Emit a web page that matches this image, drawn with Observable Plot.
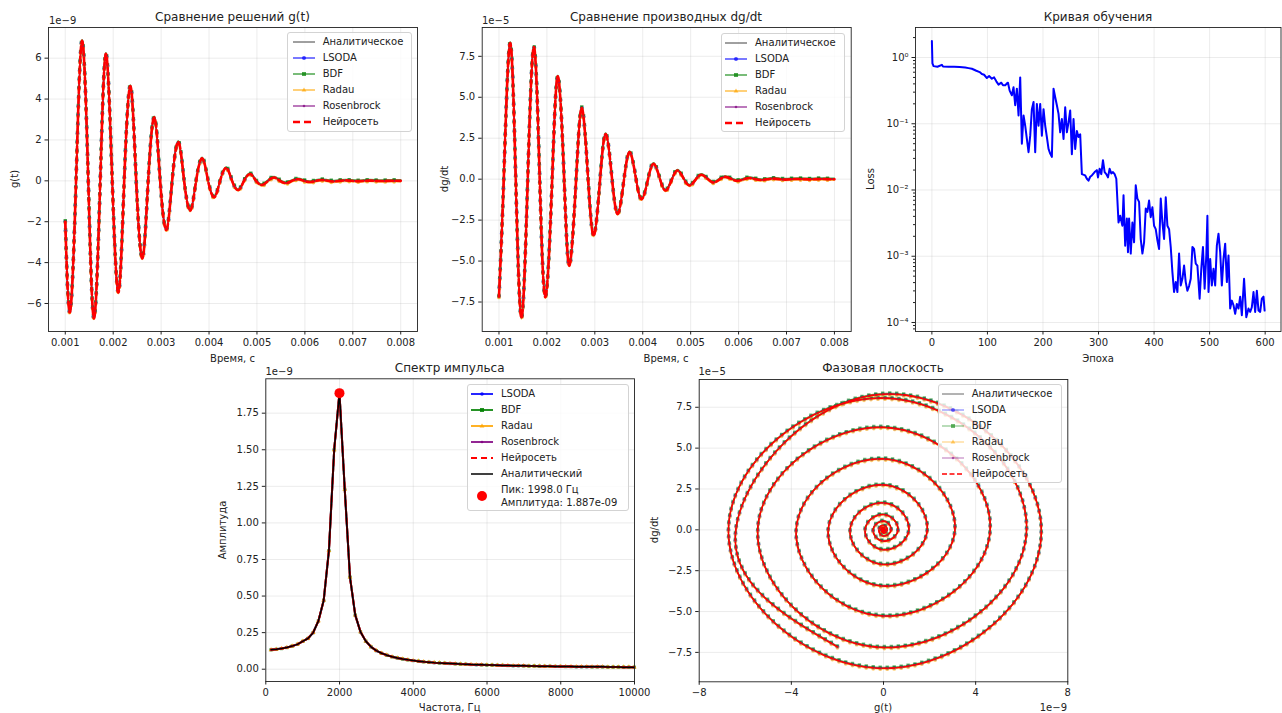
<!DOCTYPE html>
<html><head><meta charset="utf-8">
<script src="https://cdn.jsdelivr.net/npm/d3@7"></script>
<script src="https://cdn.jsdelivr.net/npm/@observablehq/plot@0.6"></script>
<style>
body{margin:0;background:#fff;}
#root{position:relative;width:1282px;height:713px;overflow:hidden;font-family:"DejaVu Sans",sans-serif;color:#222;}
.t{position:absolute;white-space:nowrap;line-height:1;}
.leg{position:absolute;background:rgba(255,255,255,0.8);border:1px solid #d3d3d3;border-radius:3px;box-sizing:border-box;}
</style></head><body><div id="root"></div><script>
// ---------- data ----------
// g(t), units 1e-9
const gT = [0.00100,0.00110,0.001225,0.00135,0.00148,0.00160,0.00173,0.00185,0.00198,0.00211,0.00223,0.00236,0.00248,0.00261,0.00273,0.00286,0.00298,0.00311,0.00323,0.00336,0.00348,0.00361,0.00373,0.00386,0.00398,0.00411,0.00423,0.00436,0.00448,0.00461,0.00473,0.00486,0.00498,0.00511,0.00523,0.00536,0.00548,0.00561,0.00573,0.00586,0.00598,0.00611,0.00623,0.00636,0.00648,0.00661,0.00673,0.00686,0.00698,0.00711,0.00723,0.00736,0.00748,0.00761,0.00773,0.00786,0.00800];
const gV = [-2.0,-6.41,0,6.85,0,-6.73,0,6.21,0,-5.46,0,4.63,0,-3.79,0,3.10,0,-2.40,0,1.90,0,-1.45,0,1.10,0,-0.80,0,0.63,0,-0.45,0,0.33,0,-0.20,0,0.16,0,-0.11,0,0.08,0,-0.06,0,0.04,0,-0.03,0,0.02,0,-0.015,0,0.01,0,-0.01,0,0.005,0];
// dg/dt, units 1e-5
const dT = [0.00100,0.00110,0.00123,0.00135,0.00147,0.00160,0.00173,0.00185,0.00197,0.00211,0.00223,0.00236,0.00247,0.00261,0.00273,0.00286,0.00298,0.00311,0.00323,0.00336,0.00348,0.00361,0.00373,0.00386,0.00398,0.00411,0.00423,0.00436,0.00448,0.00461,0.00473,0.00486,0.00498,0.00511,0.00523,0.00536,0.00548,0.00561,0.00573,0.00586,0.00598,0.00611,0.00623,0.00636,0.00648,0.00661,0.00673,0.00686,0.00698,0.00711,0.00723,0.00736,0.00748,0.00761,0.00773,0.00786,0.00800];
const dV = [-7.16,0,8.30,0,-8.47,0,8.06,0,-7.20,0,6.27,0,-5.27,0,4.34,0,-3.44,0,2.75,0,-2.12,0,1.65,0,-1.22,0,0.94,0,-0.69,0,0.53,0,-0.38,0,0.27,0,-0.20,0,0.14,0,-0.10,0,0.07,0,-0.05,0,0.035,0,-0.025,0,0.015,0,-0.01,0,0.01,0,-0.005];
// learning curve: epoch and log10(loss)
const lossEpoch = [0,1,3,10,18,20,30,40,50,60,66,72,80,86,90,94,99,103,108,112,116,120,125,128,132,135,137,140,144,147,150,153,156,159,162,165,168,171,174,177,180,183,186,189,192,195,198,201,204,207,210,213,216,219,222,225,228,231,234,237,240,243,246,249,252,255,258,261,264,267,270,276,279,282,285,288,293,297,299,302,305,308,311,314,317,320,323,326,329,332,336,339,343,345,348,351,353,355,358,361,364,367,370,373,376,379,382,385,388,391,394,397,400,403,406,409,412,415,418,421,424,427,430,433,436,439,442,445,448,451,454,457,460,463,466,469,472,475,478,482,485,488,491,494,496,498,501,504,507,510,513,516,519,522,525,528,531,534,537,540,543,546,549,552,555,558,562,566,570,573,576,579,582,585,588,591,594,597,599];
const lossLog10 = [0.25,-0.09,-0.13,-0.14,-0.11,-0.135,-0.14,-0.14,-0.145,-0.15,-0.16,-0.17,-0.2,-0.22,-0.25,-0.26,-0.31,-0.28,-0.32,-0.3,-0.36,-0.41,-0.38,-0.42,-0.42,-0.39,-0.38,-0.5,-0.57,-0.45,-0.72,-0.47,-0.875,-0.3,-1.30,-0.875,-1.03,-1.23,-1.43,-1.18,-0.78,-0.67,-1.43,-0.70,-1.03,-0.70,-1.18,-0.78,-1.03,-1.2,-1.38,-1.45,-1.5,-0.47,-0.6,-0.72,-0.85,-1.13,-0.93,-1.23,-0.75,-1.13,-0.98,-0.8,-1.46,-0.93,-1.38,-1.11,-1.2,-1.16,-1.76,-1.78,-1.83,-1.86,-1.8,-1.78,-1.73,-1.70,-1.81,-1.68,-1.76,-1.55,-1.73,-1.76,-1.81,-1.68,-1.75,-1.73,-1.76,-1.83,-2.49,-2.39,-2.54,-2.08,-2.84,-2.43,-2.94,-2.43,-2.96,-2.49,-2.79,-1.93,-2.13,-2.18,-2.74,-2.96,-2.79,-2.28,-2.33,-2.16,-2.41,-2.26,-2.54,-2.59,-2.76,-2.89,-2.13,-2.49,-2.74,-2.11,-2.54,-2.59,-2.86,-3.24,-3.54,-3.39,-3.54,-2.96,-3.44,-3.34,-3.14,-3.39,-3.52,-3.45,-3.34,-2.86,-2.89,-3.11,-3.14,-3.64,-3.19,-2.86,-3.49,-2.99,-2.39,-3.54,-3.04,-3.44,-3.19,-3.44,-2.84,-2.66,-2.94,-3.44,-3.04,-2.81,-3.39,-2.99,-3.79,-3.67,-3.74,-3.87,-3.72,-3.79,-3.61,-3.89,-3.34,-3.92,-3.79,-3.84,-3.77,-3.54,-3.84,-3.52,-3.82,-3.84,-3.64,-3.61,-3.82];
// spectrum: frequency bins (Hz) and amplitude (1e-9)
const specF = [143,285,428,571,714,856,999,1142,1284,1427,1570,1712,1855,1998,2141,2283,2426,2569,2711,2854,2997,3140,3282,3425,3568,3711,3853,3996,4139,4281,4424,4567,4710,4852,4995,5138,5281,5423,5566,5709,5852,5994,6137,6280,6422,6565,6708,6851,6993,7136,7279,7422,7564,7707,7850,7992,8135,8278,8421,8563,8706,8849,8992,9134,9277,9420,9562,9705,9848,9991];
const specA = [0.133,0.136,0.141,0.148,0.158,0.170,0.190,0.210,0.250,0.330,0.470,0.810,1.500,1.887,1.230,0.630,0.370,0.255,0.192,0.153,0.127,0.109,0.096,0.085,0.077,0.070,0.064,0.059,0.055,0.051,0.048,0.045,0.043,0.041,0.039,0.037,0.035,0.034,0.032,0.031,0.030,0.029,0.028,0.027,0.026,0.025,0.024,0.024,0.023,0.022,0.022,0.021,0.020,0.020,0.019,0.019,0.018,0.018,0.017,0.017,0.017,0.016,0.016,0.016,0.015,0.015,0.015,0.014,0.014,0.014];
const peakF = [1998.0], peakA = [1.887];
const solverNames = ["Аналитическое","LSODA","BDF","Radau","Rosenbrock","Нейросеть"];

// ---------- tables ----------
const gRows = gT.map((t,i)=>({t, v:gV[i]}));
const dRows = dT.map((t,i)=>({t, v:dV[i]}));
const phRows = gV.map((g,i)=>({g, d:dV[i]}));
const lossRows = lossEpoch.map((e,i)=>({e, l: 10 ** lossLog10[i]}));
const specRows = specF.map((f,i)=>({f, a:specA[i]}));
const peakRows = peakF.map((f,i)=>({f, a:peakA[i]}));

const root = document.getElementById("root");
const FONT = "DejaVu Sans, sans-serif";

function txt(x, y, s, o={}) {
  const d = document.createElement("div");
  d.className = "t";
  d.textContent = s;
  d.style.left = x + "px"; d.style.top = y + "px";
  d.style.fontSize = (o.size || 10) + "px";
  const a = o.anchor || "middle";
  const tx = a === "middle" ? "-50%" : a === "end" ? "-100%" : "0";
  d.style.transform = `translate(${tx},-50%)` + (o.rot ? " rotate(-90deg)" : "");
  root.append(d);
}

function mkPlot(o) {
  const svg = Plot.plot({
    width: o.w, height: o.h,
    marginLeft: o.ml, marginRight: o.mr, marginTop: o.mt, marginBottom: o.mb,
    x: {domain: o.xd, type: o.xtype || "linear"},
    y: {domain: o.yd, type: o.ytype || "linear"},
    style: {fontFamily: FONT, fontSize: "10px", color: "#222", background: "transparent", overflow: "visible"},
    marks: [
      Plot.gridX({ticks: o.xt, stroke: "#b0b0b0", strokeOpacity: 0.3, strokeWidth: 0.8}),
      Plot.gridY({ticks: o.yt, stroke: "#b0b0b0", strokeOpacity: 0.3, strokeWidth: 0.8}),
      ...o.marks,
      Plot.frame({stroke: "#222", strokeWidth: 0.9}),
      Plot.axisX({ticks: o.xt, tickFormat: o.xf, tickSize: 3.5, tickPadding: 3.5, label: null}),
      Plot.axisY({ticks: o.yt, tickFormat: o.yf, tickSize: 3.5, tickPadding: 3.5, label: null}),
      ...(o.extra || [])
    ]
  });
  svg.style.position = "absolute";
  svg.style.left = o.left + "px";
  svg.style.top = o.top + "px";
  root.append(svg);
}

function solverMarks(data, x, y, o) {
  const curve = "natural";
  const base = (stroke, w, extra={}) => Plot.line(data, {x, y, curve, stroke, strokeWidth: w, strokeOpacity: o.op, ...extra});
  const dots = (stroke, w, cap, dy) => Plot.line(data, {x, y, curve, stroke, strokeWidth: w, strokeOpacity: o.op,
    strokeDasharray: `0 ${o.sp}`, strokeLinecap: cap, dy});
  return [
    Plot.line(data, {x, y, curve, stroke: "black", strokeWidth: 1, strokeOpacity: 0.7}),
    base("blue", o.lw), dots("blue", 4, "round", 0),
    base("green", o.lw, {dy: -1}), dots("green", 3.4, "square", -1),
    base("orange", o.lw, {dy: 1}), dots("orange", 3.8, "round", 1),
    base("purple", o.lw), dots("purple", 2.4, "round", 0),
    Plot.line(data, {x, y, curve, stroke: "red", strokeWidth: o.nnw, strokeDasharray: o.nnDash})
  ];
}

const f3 = d3.format(".3f"), fd = d3.format("d"), f1 = d3.format(".1f"), f2 = d3.format(".2f");

// ---------- Panel 1: g(t) ----------
mkPlot({left: 0, top: 0, w: 430, h: 370, ml: 48, mr: 13, mt: 27, mb: 39,
  xd: [0.00065, 0.00835], yd: [-7.37, 7.5],
  xt: [0.001,0.002,0.003,0.004,0.005,0.006,0.007,0.008], xf: f3,
  yt: [-6,-4,-2,0,2,4,6], yf: fd,
  marks: solverMarks(gRows, "t", "v", {lw: 1.5, op: 0.7, sp: 9, nnw: 2.6, nnDash: "7 3"})});

// ---------- Panel 2: dg/dt ----------
mkPlot({left: 430, top: 0, w: 430, h: 370, ml: 51.7, mr: 9.3, mt: 27, mb: 39,
  xd: [0.00065, 0.00835], yd: [-9.3, 9.26],
  xt: [0.001,0.002,0.003,0.004,0.005,0.006,0.007,0.008], xf: f3,
  yt: [-7.5,-5,-2.5,0,2.5,5,7.5], yf: f1,
  marks: solverMarks(dRows, "t", "v", {lw: 1.5, op: 0.7, sp: 9, nnw: 2.6, nnDash: "7 3"})});

// ---------- Panel 3: loss ----------
const sup = {"0":"⁰","-1":"⁻¹","-2":"⁻²","-3":"⁻³","-4":"⁻⁴"};
const minor = [];
for (let k = -5; k <= 0; k++) for (let m = 2; m <= 9; m++) { const v = m * 10 ** k; if (v > 7.3e-5 && v < 2.84) minor.push(v); }
mkPlot({left: 860, top: 0, w: 422, h: 370, ml: 55, mr: 1.5, mt: 27, mb: 39,
  xd: [-29.5, 628.5], yd: [10 ** -4.136, 10 ** 0.453], ytype: "log",
  xt: [0,100,200,300,400,500,600], xf: fd,
  yt: [1e-4,1e-3,1e-2,1e-1,1], yf: d => "10" + sup[String(Math.round(Math.log10(d)))],
  marks: [Plot.line(lossRows, {x: "e", y: "l", stroke: "blue", strokeWidth: 2})],
  extra: [Plot.axisY({ticks: minor, tickSize: 2, tickFormat: () => "", label: null})]});

// ---------- Panel 4: spectrum ----------
mkPlot({left: 200, top: 370, w: 450, h: 343, ml: 65.3, mr: 16, mt: 8.3, mb: 32,
  xd: [0, 10000], yd: [-0.084, 1.985],
  xt: [0,2000,4000,6000,8000,10000], xf: fd,
  yt: [0,0.25,0.5,0.75,1,1.25,1.5,1.75], yf: f2,
  marks: [
    Plot.line(specRows, {x: "f", y: "a", stroke: "blue", strokeWidth: 2, strokeOpacity: 0.8}),
    Plot.dot(specRows, {x: "f", y: "a", fill: "blue", r: 1.5, fillOpacity: 0.8}),
    Plot.line(specRows, {x: "f", y: "a", stroke: "green", strokeWidth: 2, strokeOpacity: 0.8}),
    Plot.dot(specRows, {x: "f", y: "a", fill: "green", symbol: "square", r: 1.8, fillOpacity: 0.8}),
    Plot.line(specRows, {x: "f", y: "a", stroke: "orange", strokeWidth: 2, strokeOpacity: 0.8}),
    Plot.dot(specRows, {x: "f", y: "a", fill: "orange", symbol: "triangle", r: 1.8, fillOpacity: 0.8}),
    Plot.line(specRows, {x: "f", y: "a", stroke: "purple", strokeWidth: 2, strokeOpacity: 0.8}),
    Plot.dot(specRows, {x: "f", y: "a", fill: "purple", r: 1, fillOpacity: 0.8}),
    Plot.line(specRows, {x: "f", y: "a", stroke: "red", strokeWidth: 2, strokeDasharray: "6 3"}),
    Plot.line(specRows, {x: "f", y: "a", stroke: "black", strokeWidth: 1.5}),
    Plot.dot(peakRows, {x: "f", y: "a", fill: "red", r: 5})
  ]});

// ---------- Panel 5: phase plane ----------
mkPlot({left: 650, top: 370, w: 432, h: 343, ml: 48.7, mr: 14.7, mt: 9, mb: 31.7,
  xd: [-8, 8], yd: [-9.3, 9.2],
  xt: [-8,-4,0,4,8], xf: fd,
  yt: [-7.5,-5,-2.5,0,2.5,5,7.5], yf: f1,
  marks: solverMarks(phRows, "g", "d", {lw: 1, op: 0.55, sp: 7, nnw: 1.6, nnDash: "5 2"})});

// ---------- titles & labels ----------
txt(232.5, 17, "Сравнение решений g(t)", {size: 12});
txt(666, 17, "Сравнение производных dg/dt", {size: 12});
txt(1098, 17, "Кривая обучения", {size: 12});
txt(449.7, 368, "Спектр импульса", {size: 12});
txt(883, 368, "Фазовая плоскость", {size: 12});
txt(232.5, 358.5, "Время, с"); txt(15, 179, "g(t)", {rot: true});
txt(666, 358.5, "Время, с"); txt(445, 179, "dg/dt", {rot: true});
txt(1098, 358.5, "Эпоха"); txt(870.5, 179, "Loss", {rot: true});
txt(449.7, 708, "Частота, Гц"); txt(223, 530, "Амплитуда", {rot: true});
txt(883, 708, "g(t)"); txt(655, 530, "dg/dt", {rot: true});
txt(49, 21, "1e−9", {anchor: "start"});
txt(482, 21, "1e−5", {anchor: "start"});
txt(265.5, 371.5, "1e−9", {anchor: "start"});
txt(698.5, 371.5, "1e−5", {anchor: "start"});
txt(1067, 708, "1e−9", {anchor: "end"});

// ---------- legends ----------
function sample(it) {
  const ns = "http://www.w3.org/2000/svg";
  const s = document.createElementNS(ns, "svg");
  s.setAttribute("width", 24); s.setAttribute("height", 12);
  s.style.position = "absolute"; s.style.overflow = "visible";
  if (it.line !== false) {
    const l = document.createElementNS(ns, "line");
    l.setAttribute("x1", 1); l.setAttribute("x2", 23); l.setAttribute("y1", 6); l.setAttribute("y2", 6);
    l.setAttribute("stroke", it.c); l.setAttribute("stroke-width", it.w || 1.5);
    l.setAttribute("stroke-opacity", it.op ?? 1);
    if (it.dash) l.setAttribute("stroke-dasharray", it.dash);
    s.append(l);
  }
  if (it.m) {
    let e;
    if (it.m === "square") { e = document.createElementNS(ns, "rect"); e.setAttribute("x", 10); e.setAttribute("y", 4); e.setAttribute("width", 4); e.setAttribute("height", 4); }
    else if (it.m === "tri") { e = document.createElementNS(ns, "path"); e.setAttribute("d", "M12,3.6L14.4,7.6L9.6,7.6Z"); }
    else { e = document.createElementNS(ns, "circle"); e.setAttribute("cx", 12); e.setAttribute("cy", 6); e.setAttribute("r", it.r || 2); }
    e.setAttribute("fill", it.c); e.setAttribute("fill-opacity", it.op ?? 1);
    s.append(e);
  }
  return s;
}
function legend(box, items, o) {
  const d = document.createElement("div");
  d.className = "leg";
  Object.assign(d.style, {left: box[0] + "px", top: box[1] + "px", width: box[2] + "px", height: box[3] + "px"});
  root.append(d);
  items.forEach((it, i) => {
    const yc = box[1] + (it.yc ?? (o.first + i * 16));
    const s = sample(it);
    s.style.left = (box[0] + o.sx) + "px"; s.style.top = (yc - 6) + "px";
    root.append(s);
    if (Array.isArray(it.label)) {
      txt(box[0] + o.tx, yc - 6.2, it.label[0], {anchor: "start"});
      txt(box[0] + o.tx, yc + 6.2, it.label[1], {anchor: "start"});
    } else txt(box[0] + o.tx, yc, it.label, {anchor: "start"});
  });
}
const topItems = [
  {label: solverNames[0], c: "black", w: 1, op: 0.75},
  {label: solverNames[1], c: "blue", w: 1.5, op: 0.7, m: "dot"},
  {label: solverNames[2], c: "green", w: 1.5, op: 0.7, m: "square"},
  {label: solverNames[3], c: "orange", w: 1.5, op: 0.7, m: "tri"},
  {label: solverNames[4], c: "purple", w: 1.5, op: 0.7, m: "dot", r: 1.3},
  {label: solverNames[5], c: "red", w: 2.6, dash: "7 4"}
];
legend([286.7, 32.3, 125, 99.4], topItems, {first: 9.4, sx: 5, tx: 36});
legend([720.7, 33.3, 124.3, 99], topItems, {first: 9.4, sx: 3, tx: 34.3});
legend([467.3, 384.3, 161.4, 126.7], [
  {label: "LSODA", c: "blue", w: 2, op: 0.85, m: "dot", r: 1.8},
  {label: "BDF", c: "green", w: 2, op: 0.85, m: "square"},
  {label: "Radau", c: "orange", w: 2, op: 0.85, m: "tri"},
  {label: "Rosenbrock", c: "purple", w: 2, op: 0.85, m: "dot", r: 1.3},
  {label: "Нейросеть", c: "red", w: 2, dash: "6 4"},
  {label: "Аналитический", c: "black", w: 1.5},
  {label: ["Пик: 1998.0 Гц", "Амплитуда: 1.887e-09"], c: "red", line: false, m: "dot", r: 5, yc: 112}
], {first: 9.4, sx: 3, tx: 33.7});
legend([937.7, 384.3, 124, 99], [
  {label: solverNames[0], c: "black", w: 1, op: 0.6},
  {label: solverNames[1], c: "blue", w: 1, op: 0.55, m: "dot"},
  {label: solverNames[2], c: "green", w: 1, op: 0.55, m: "square"},
  {label: solverNames[3], c: "orange", w: 1, op: 0.55, m: "tri"},
  {label: solverNames[4], c: "purple", w: 1, op: 0.55, m: "dot", r: 1.3},
  {label: solverNames[5], c: "red", w: 1.6, dash: "5 2.5"}
], {first: 9.4, sx: 3, tx: 34});
</script></body></html>
